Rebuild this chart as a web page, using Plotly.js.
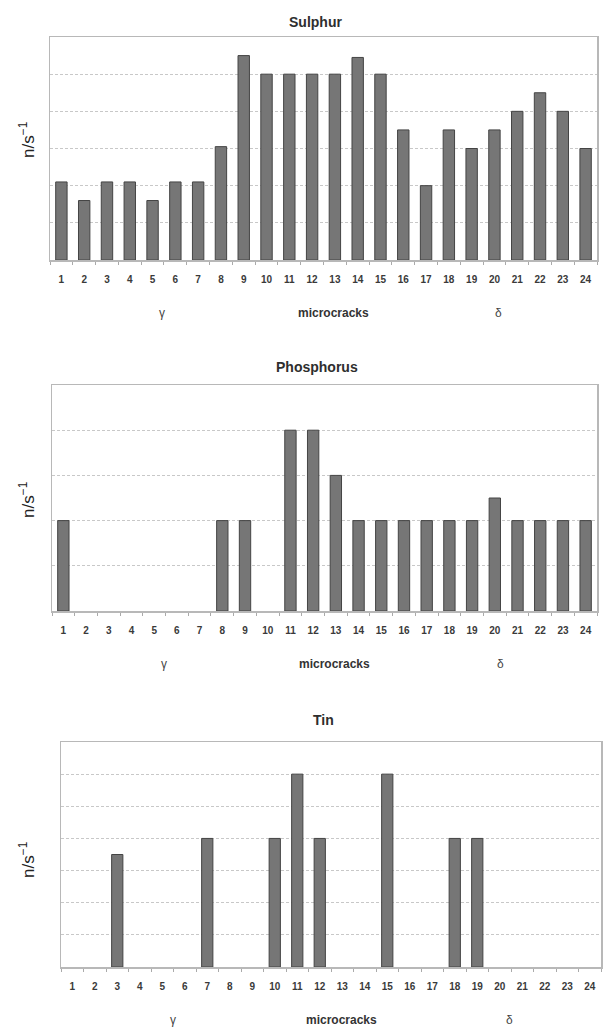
<!DOCTYPE html>
<html>
<head>
<meta charset="utf-8">
<script src="https://cdn.plot.ly/plotly-3.0.1.min.js"></script>
<style>html,body{margin:0;padding:0;background:#fff;}#chart{width:604px;height:1029px;}</style>
</head>
<body>
<div id="chart"></div>
<script>
const categories = ['1','2','3','4','5','6','7','8','9','10','11','12','13','14','15','16','17','18','19','20','21','22','23','24'];
const sulphurValues = [2.1,1.6,2.1,2.1,1.6,2.1,2.1,3.05,5.5,5,5,5,5,5.45,5,3.5,2,3.5,3,3.5,4,4.5,4,3];
const phosphorusValues = [2,0,0,0,0,0,0,2,2,0,4,4,3,2,2,2,2,2,2,2.5,2,2,2,2];
const tinValues = [0,0,3.5,0,0,0,4,0,0,4,6,4,0,0,6,0,0,4,4,0,0,0,0,0];
const panelTitles = ['Sulphur','Phosphorus','Tin'];
const yTitle = 'n/s<sup>\u22121</sup>';
const xTitle = 'microcracks';
const leftLabel = '\u03b3';
const rightLabel = '\u03b4';

const W = 604, H = 1029;
const FONT = '"Liberation Sans", Arial, sans-serif';
// pixel geometry of the three panels
const panels = [
  {vals: sulphurValues, left: 50, right: 597, top: 37, bottom: 260, ymax: 6, titleY: 22, yTitleY: 140},
  {vals: phosphorusValues, left: 52, right: 597, top: 385, bottom: 611, ymax: 5, titleY: 367, yTitleY: 500},
  {vals: tinValues, left: 61, right: 601, top: 742, bottom: 967, ymax: 7, titleY: 720, yTitleY: 860}
];

const data = [];
const layout = {
  width: W, height: H,
  margin: {l: 0, r: 0, t: 0, b: 0},
  paper_bgcolor: '#ffffff', plot_bgcolor: '#ffffff',
  showlegend: false,
  bargap: 0.5,
  font: {family: FONT, color: '#333'},
  annotations: []
};

panels.forEach((p, i) => {
  const n = i === 0 ? '' : String(i + 1);
  data.push({
    type: 'bar', x: categories, y: p.vals,
    xaxis: 'x' + n, yaxis: 'y' + n,
    marker: {color: '#767676', line: {color: '#444444', width: p.vals.map(v => v > 0 ? 1 : 0)}},
    hoverinfo: 'x+y'
  });
  const x0 = p.left / W, x1 = p.right / W;
  const y0 = 1 - p.bottom / H, y1 = 1 - p.top / H;
  layout['xaxis' + n] = {
    domain: [x0, x1], anchor: 'y' + n, type: 'category',
    showline: true, linecolor: '#b8b8b8', linewidth: 1.5, mirror: true,
    ticks: 'outside', ticklen: 3, tickcolor: '#aaaaaa', tickson: 'boundaries',
    tickfont: {size: 10, color: '#3a3a3a', family: FONT, weight: 'bold'},
    ticklabelstandoff: 9,
    showgrid: false, zeroline: false, fixedrange: true
  };
  layout['yaxis' + n] = {
    domain: [y0, y1], anchor: 'x' + n,
    range: [0, p.ymax], dtick: 1,
    showline: true, linecolor: '#b8b8b8', linewidth: 1.5, mirror: true,
    showticklabels: false, ticks: '',
    showgrid: true, gridcolor: '#c8c8c8', gridwidth: 1, griddash: '3px,2px',
    zeroline: false, fixedrange: true
  };
  const cx = (p.left + p.right) / 2;
  layout.annotations.push(
    {text: '<b>' + panelTitles[i] + '</b>', xref: 'paper', yref: 'paper', x: (cx - 8) / W, y: 1 - p.titleY / H,
     xanchor: 'center', yanchor: 'middle', showarrow: false, font: {size: 14, color: '#2e2e2e', family: FONT}},
    {text: yTitle, xref: 'paper', yref: 'paper', x: 27 / W, y: 1 - p.yTitleY / H, textangle: -90,
     xanchor: 'center', yanchor: 'middle', showarrow: false, font: {size: 17, color: '#222', family: FONT}},
    {text: '<b>' + xTitle + '</b>', xref: 'paper', yref: 'paper', x: (cx + 10) / W, y: 1 - (p.bottom + 53) / H,
     xanchor: 'center', yanchor: 'middle', showarrow: false, font: {size: 12, color: '#333', family: FONT}},
    {text: leftLabel, xref: 'paper', yref: 'paper', x: (p.left + 112) / W, y: 1 - (p.bottom + 53) / H,
     xanchor: 'center', yanchor: 'middle', showarrow: false, font: {size: 12, color: '#444', family: FONT}},
    {text: rightLabel, xref: 'paper', yref: 'paper', x: (p.left + 448) / W, y: 1 - (p.bottom + 53) / H,
     xanchor: 'center', yanchor: 'middle', showarrow: false, font: {size: 12, color: '#444', family: FONT}}
  );
});

Plotly.newPlot('chart', data, layout, {displayModeBar: false, staticPlot: true});
</script>
</body>
</html>
